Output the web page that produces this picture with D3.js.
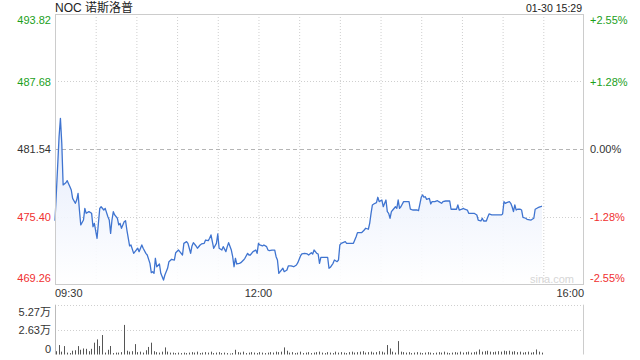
<!DOCTYPE html>
<html><head><meta charset="utf-8">
<script src="https://cdn.jsdelivr.net/npm/d3@7/dist/d3.min.js"></script>
<style>
html,body{margin:0;padding:0;background:#fff;}
svg{display:block;font-family:"Liberation Sans",Arial,"Noto Sans CJK SC",sans-serif;}
</style></head>
<body>
<svg id="chart" width="640" height="360"></svg>
<script>
const title = "NOC 诺斯洛普";
const stamp = "01-30 15:29";
const prevClose = 481.54;
const priceTicks = [493.82, 487.68, 481.54, 475.40, 469.26];
const pctTicks = ["+2.55%", "+1.28%", "0.00%", "-1.28%", "-2.55%"];
const timeTicks = [{m: 0, t: "09:30"}, {m: 150, t: "12:00"}, {m: 390, t: "16:00"}];
const volTicks = [{v: 5.27, t: "5.27万"}, {v: 2.63, t: "2.63万"}, {v: 0, t: "0"}];

// minutes after 09:30 and price
const priceMinutes = [0,3,4,5,6,8,9,11,12,13,15,16,17,18,19,21,22,23,25,27,28,29,31,32,33,34,36,37,39,40,41,42,43,44,46,47,48,49,51,52,53,55,56,58,59,61,62,64,65,67,68,70,71,
72,73,74,75,77,78,80,81,83,84,86,88,89,91,92,94,95,97,98,99,100,101,102,104,105,107,108,110,111,113,114,115,116,117,119,120,121,123,124,126,127,128,130,131,132,133,134,136,137,139,140,142,143,
144,146,148,149,150,151,153,154,156,157,158,160,162,163,164,165,166,168,169,171,172,174,176,178,179,181,182,184,186,187,189,190,191,193,194,195,196,198,201,202,203,205,206,208,209,210,211,214,215,
220,222,223,226,228,229,231,232,233,234,235,237,238,239,241,242,244,245,246,247,248,249,251,252,253,254,255,257,259,261,262,264,267,268,270,271,272,273,274,276,277,278,280,282,283,285,286,288,
291,292,296,297,298,300,301,302,304,305,309,311,312,314,315,316,318,319,320,322,326,329,330,331,332,333,335,336,337,338,339,340,341,343,344,345,347,348,351,353,354,356,358,359];
const priceValues = [475.02,482.66,484.33,482.06,478.27,478.47,478.66,478.11,477.81,477.05,476.60,476.90,477.51,475.99,474.63,475.08,476.14,475.69,475.84,475.69,474.47,474.78,473.42,474.78,476.14,476.29,475.99,476.14,475.38,475.08,473.87,475.08,475.84,475.54,475.24,474.63,474.78,474.33,474.93,475.02,474.17,472.72,472.81,472.05,472.20,472.51,472.20,472.81,472.51,472.05,471.90,471.14,470.29,
470.38,470.23,471.60,470.83,471.08,470.23,469.62,470.08,470.69,471.29,471.51,471.44,472.11,472.35,472.20,471.90,472.96,473.11,472.96,472.51,472.05,472.72,473.02,472.72,472.51,472.81,472.90,472.96,473.26,473.20,473.42,473.72,473.11,472.51,472.96,473.81,472.51,472.35,472.66,472.20,472.66,473.02,472.35,471.74,470.83,471.60,471.08,471.14,471.20,471.44,471.60,472.05,471.90,
471.90,472.20,472.35,472.05,472.96,472.81,472.72,472.81,472.66,472.35,472.29,472.35,472.35,471.74,471.44,470.23,470.38,470.69,470.38,470.53,470.90,470.90,470.83,470.99,471.20,471.81,471.99,472.05,471.99,471.90,472.11,471.99,472.35,472.05,471.99,471.14,471.69,471.69,471.69,470.69,470.78,471.14,471.44,471.29,471.44,472.81,472.96,473.11,472.96,
472.96,473.56,473.93,473.93,474.17,474.33,474.24,474.78,475.69,476.45,476.54,476.66,477.15,476.75,476.90,476.29,476.90,475.84,475.69,475.24,475.84,475.99,476.29,476.14,476.90,476.14,476.29,476.75,476.75,476.75,476.06,475.99,475.99,475.93,477.15,477.36,477.15,477.20,476.96,477.05,476.54,476.75,476.75,476.84,476.75,476.60,476.75,476.81,
476.81,476.06,476.06,476.45,475.99,476.06,476.14,476.06,475.99,475.69,475.69,475.54,475.08,474.99,475.24,474.99,474.99,475.33,475.63,475.54,475.54,475.54,475.63,476.75,476.60,476.66,476.75,476.60,476.29,475.84,476.45,475.99,476.06,476.06,475.99,475.33,475.24,475.14,475.08,475.24,476.06,476.20,476.29,476.35];

// volume (万), one bar every 2 minutes starting 09:30
const volStep = 2;
const volValues = [0.35,1.0,0.3,0.89,0.2,0.15,0.4,0.45,0.89,0.5,0.64,0.6,0.35,0.6,1.25,1.6,0.9,2.06,0.2,0.5,0.9,0.15,0.2,0.2,0.25,3.13,0.4,0.3,0.35,1.1,0.25,0.3,0.2,0.45,0.8,1.25,0.35,0.25,0.2,0.3,0.75,0.3,0.2,0.2,0.15,0.2,0.15,0.2,0.15,0.2,
0.25,0.2,0.3,0.15,0.2,0.25,0.2,0.3,0.15,0.2,0.25,0.15,0.2,0.15,0.1,0.15,0.5,0.25,0.2,0.3,0.15,0.2,0.25,0.2,0.15,0.25,0.2,0.15,0.2,0.25,0.2,0.3,0.25,0.3,0.75,0.4,0.2,0.25,0.15,0.2,
0.3,0.15,0.2,0.25,0.15,0.2,0.25,0.3,0.2,0.15,0.25,0.2,0.15,0.3,0.2,0.25,0.2,0.15,0.25,0.3,0.2,0.25,0.3,0.35,0.2,0.25,0.3,0.2,0.25,0.35,0.3,0.2,1.0,0.64,0.3,0.2,1.42,0.3,0.25,0.2,
0.25,0.15,0.2,0.25,0.2,0.15,0.2,0.25,0.2,0.15,0.2,0.25,0.2,0.3,0.2,0.15,0.2,0.25,0.2,0.3,0.2,0.25,0.3,0.2,0.25,0.3,0.53,0.3,0.35,0.4,0.3,0.25,0.3,0.35,0.3,0.4,0.35,0.4,0.3,0.35,
0.25,0.3,0.2,0.25,0.3,0.2,0.25,0.53,0.3,0.2];

const svg = d3.select("#chart");
const L = 55, R = 584, T = 14, B = 284;
const VT = 304.7, VB = 354.5;
const green = "#1ba01b", red = "#f03030", dark = "#333";

const x = d3.scaleLinear().domain([0, 390]).range([L, R]);
const y = d3.scaleLinear().domain([priceTicks[4], priceTicks[0]]).range([B, T]);
const yv = d3.scaleLinear().domain([0, volTicks[0].v]).range([VB, VT]);

const defs = svg.append("defs");
const grad = defs.append("linearGradient").attr("id", "fillg").attr("x1", 0).attr("y1", 0).attr("x2", 0).attr("y2", 1);
grad.append("stop").attr("offset", "0%").attr("stop-color", "#dfe8fb");
grad.append("stop").attr("offset", "100%").attr("stop-color", "#ffffff");

// grid: vertical every 30 min
const vg = d3.range(30, 390, 30);
svg.append("g").selectAll("line").data(vg).join("line")
  .attr("x1", d => x(d) + 0.5).attr("x2", d => x(d) + 0.5)
  .attr("y1", T).attr("y2", B)
  .attr("stroke", "#cfcfcf").attr("stroke-dasharray", "1,2");
// horizontal
svg.append("g").selectAll("line").data([priceTicks[1], priceTicks[3]]).join("line")
  .attr("x1", L).attr("x2", R)
  .attr("y1", d => Math.round(y(d)) + 0.5).attr("y2", d => Math.round(y(d)) + 0.5)
  .attr("stroke", "#cfcfcf").attr("stroke-dasharray", "1,2");
svg.append("line").attr("x1", L).attr("x2", R)
  .attr("y1", Math.round(y(prevClose)) + 0.5).attr("y2", Math.round(y(prevClose)) + 0.5)
  .attr("stroke", "#b5b5b5").attr("stroke-dasharray", "4,3");

// area + line
const pts = priceMinutes.map((m, i) => [m, priceValues[i]]);
svg.append("path").datum(pts)
  .attr("d", d3.area().x(d => x(d[0])).y0(B).y1(d => y(d[1])))
  .attr("fill", "url(#fillg)").attr("opacity", 0.9);
svg.append("path").datum(pts)
  .attr("d", d3.line().x(d => x(d[0])).y(d => y(d[1])))
  .attr("fill", "none").attr("stroke", "#3f74d0").attr("stroke-width", 1.3).attr("stroke-linejoin", "round");

// frame
svg.append("rect").attr("x", L + 0.5).attr("y", T + 0.5).attr("width", R - L - 1).attr("height", B - T)
  .attr("fill", "none").attr("stroke", "#cccccc");

// watermark
svg.append("text").attr("x", 552).attr("y", 283).attr("text-anchor", "middle")
  .attr("font-size", 11).attr("fill", "#d6d6d6").text("sina.com");

// left price labels
const colorFor = i => i < 2 ? green : (i === 2 ? dark : red);
const dyFor = i => i === 0 ? 10 : (i === 4 ? -2 : 4);
svg.append("g").selectAll("text").data(priceTicks).join("text")
  .attr("x", 51).attr("y", (d, i) => y(d) + dyFor(i))
  .attr("text-anchor", "end").attr("font-size", 11)
  .attr("fill", (d, i) => colorFor(i)).text(d => d.toFixed(2));
svg.append("g").selectAll("text").data(pctTicks).join("text")
  .attr("x", 590).attr("y", (d, i) => y(priceTicks[i]) + dyFor(i))
  .attr("text-anchor", "start").attr("font-size", 11)
  .attr("fill", (d, i) => colorFor(i)).text(d => d);

// time labels
svg.append("g").selectAll("text").data(timeTicks).join("text")
  .attr("x", d => x(d.m)).attr("y", 297)
  .attr("text-anchor", (d, i) => i === 0 ? "start" : (i === 2 ? "end" : "middle"))
  .attr("font-size", 11).attr("fill", dark).text(d => d.t);

// title and stamp
svg.append("text").attr("x", 55).attr("y", 12).attr("font-size", 12).attr("fill", "#222").text(title);
svg.append("text").attr("x", 582).attr("y", 12).attr("text-anchor", "end").attr("font-size", 10.5).attr("fill", "#222").text(stamp);

// volume pane
svg.append("g").selectAll("line").data([volTicks[0].v, volTicks[1].v]).join("line")
  .attr("x1", L).attr("x2", R)
  .attr("y1", d => Math.round(yv(d)) + 0.5).attr("y2", d => Math.round(yv(d)) + 0.5)
  .attr("stroke", "#cfcfcf").attr("stroke-dasharray", "1,2");
svg.append("line").attr("x1", L + 0.5).attr("x2", L + 0.5).attr("y1", VT).attr("y2", VB).attr("stroke", "#bbb");
svg.append("line").attr("x1", R - 0.5).attr("x2", R - 0.5).attr("y1", VT).attr("y2", VB).attr("stroke", "#ccc");
svg.append("g").selectAll("rect").data(volValues).join("rect")
  .attr("x", (d, i) => Math.round(x(i * volStep)) + 1)
  .attr("width", 1)
  .attr("y", d => yv(d))
  .attr("height", d => VB - yv(d))
  .attr("fill", "#555");
svg.append("g").selectAll("text").data(volTicks).join("text")
  .attr("x", 51).attr("y", (d, i) => i === 0 ? yv(d.v) + 11 : (i === 2 ? yv(d.v) - 2 : yv(d.v) + 4))
  .attr("text-anchor", "end").attr("font-size", 11).attr("fill", dark).text(d => d.t);
</script>
</body></html>
